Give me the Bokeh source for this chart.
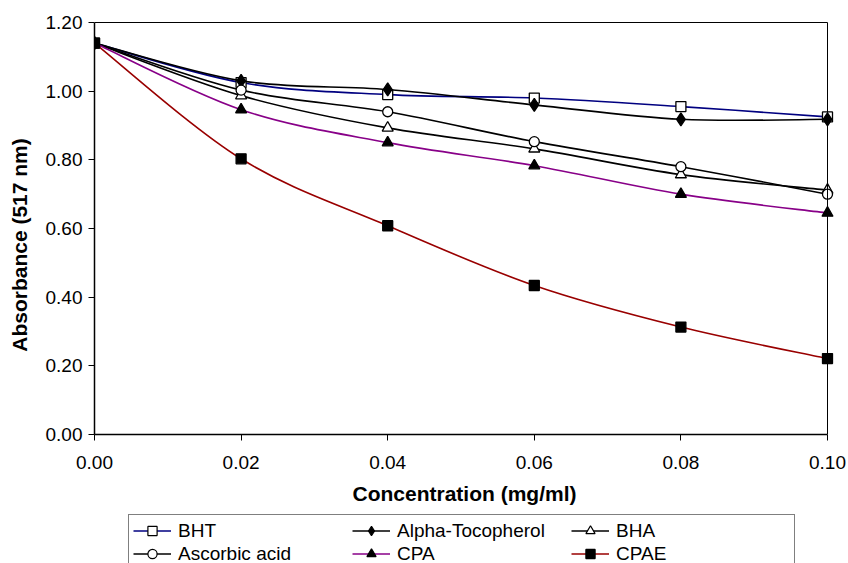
from bokeh.plotting import figure
from bokeh.layouts import column
from bokeh.models import (Range1d, FixedTicker, PrintfTickFormatter, Legend, LegendItem,
                          LinearAxis)
from bokeh.embed import file_html
from bokeh.resources import INLINE

conc = [0.00, 0.02, 0.04, 0.06, 0.08, 0.10]
bht = [1.14, 1.025, 0.99, 0.98, 0.955, 0.925]
alpha_toc = [1.14, 1.03, 1.005, 0.96, 0.918, 0.918]
bha = [1.14, 0.987, 0.893, 0.832, 0.757, 0.712]
ascorbic = [1.14, 1.003, 0.94, 0.853, 0.78, 0.70]
cpa = [1.14, 0.946, 0.85, 0.783, 0.70, 0.645]
cpae = [1.14, 0.803, 0.608, 0.434, 0.313, 0.221]

x_ticks = [0.00, 0.02, 0.04, 0.06, 0.08, 0.10]
y_ticks = [0.00, 0.20, 0.40, 0.60, 0.80, 1.00, 1.20]

FONT = "Liberation Sans"
X_MIN, X_MAX, Y_MIN, Y_MAX = 0.0, 0.1, 0.0, 1.2

# small range padding on the right/top so edge markers and border lines are not clipped
p = figure(frame_width=740, frame_height=414, output_backend="svg", toolbar_location=None,
           x_range=Range1d(X_MIN, X_MAX + 0.000955), y_range=Range1d(Y_MIN, Y_MAX + 0.0058),
           min_border_left=94, min_border_right=14, min_border_top=20,
           min_border_bottom=79)
p.xgrid.visible = False
p.ygrid.visible = False
p.outline_line_color = None
p.background_fill_color = "white"
p.border_fill_color = "white"

for ax in (p.xaxis[0], p.yaxis[0]):
    ax.axis_line_color = "black"
    ax.axis_line_width = 1.5
    ax.major_tick_line_color = "black"
    ax.major_tick_line_width = 1
    ax.major_tick_in = 0
    ax.major_tick_out = 6
    ax.minor_tick_line_color = None
    ax.major_label_text_font = FONT
    ax.major_label_text_font_size = "19px"
    ax.major_label_text_color = "black"
    ax.axis_label_text_font = FONT
    ax.axis_label_text_font_size = "21px"
    ax.axis_label_text_font_style = "bold"
    ax.axis_label_text_color = "black"
    ax.formatter = PrintfTickFormatter(format="%.2f")

p.xaxis[0].ticker = FixedTicker(ticks=x_ticks)
p.yaxis[0].ticker = FixedTicker(ticks=y_ticks)
p.xaxis[0].bounds = (X_MIN, X_MAX)
p.yaxis[0].bounds = (Y_MIN, Y_MAX)
p.xaxis[0].axis_label = "Concentration (mg/ml)"
# trailing no-break spaces nudge the rotated title downward, as in the original
p.yaxis[0].axis_label = "Absorbance (517 nm)" + "\u00a0" * 6
p.xaxis[0].major_label_standoff = 15
p.yaxis[0].major_label_standoff = 6
p.xaxis[0].axis_label_standoff = 10
p.yaxis[0].axis_label_standoff = 12

# plot-area border on top and right
top_ax = LinearAxis(ticker=FixedTicker(ticks=[]), bounds=(X_MIN, X_MAX), fixed_location=Y_MAX,
                    axis_line_color="black", axis_line_width=1,
                    major_tick_line_color=None, minor_tick_line_color=None)
right_ax = LinearAxis(ticker=FixedTicker(ticks=[]), bounds=(Y_MIN, Y_MAX), fixed_location=X_MAX,
                      axis_line_color="black", axis_line_width=1,
                      major_tick_line_color=None, minor_tick_line_color=None)
p.add_layout(top_ax, "above")
p.add_layout(right_ax, "right")


def smooth_segments(xs, ys):
    n = len(xs)
    x0, y0, x1, y1, cx0, cy0, cx1, cy1 = [], [], [], [], [], [], [], []
    for i in range(n - 1):
        im = max(i - 1, 0)
        ip2 = min(i + 2, n - 1)
        x0.append(xs[i]); y0.append(ys[i])
        x1.append(xs[i + 1]); y1.append(ys[i + 1])
        cx0.append(xs[i] + (xs[i + 1] - xs[im]) / 6.0)
        cy0.append(ys[i] + (ys[i + 1] - ys[im]) / 6.0)
        cx1.append(xs[i + 1] - (xs[ip2] - xs[i]) / 6.0)
        cy1.append(ys[i + 1] - (ys[ip2] - ys[i]) / 6.0)
    return dict(x0=x0, y0=y0, x1=x1, y1=y1, cx0=cx0, cy0=cy0, cx1=cx1, cy1=cy1)


series = [
    ("BHT", bht, "#000080", "square", "white", 10),
    ("Alpha-Tocopherol", alpha_toc, "black", "diamond", "black", 13),
    ("BHA", bha, "black", "triangle", "white", 11),
    ("Ascorbic acid", ascorbic, "black", "circle", "white", 10),
    ("CPA", cpa, "#880088", "triangle", "black", 11),
    ("CPAE", cpae, "#990000", "square", "black", 10),
]

# legend strip below the chart (its own figure so the legend can be placed freely)
lg = figure(width=848, height=50, output_backend="svg", toolbar_location=None,
            x_range=Range1d(10, 11), y_range=Range1d(10, 11),
            x_axis_location=None, y_axis_location=None, min_border=0)
lg.xgrid.visible = False
lg.ygrid.visible = False
lg.outline_line_color = None

items = []
for name, vals, color, marker, fill, size in series:
    seg = smooth_segments(conc, vals)
    p.bezier(x0=seg["x0"], y0=seg["y0"], x1=seg["x1"], y1=seg["y1"],
             cx0=seg["cx0"], cy0=seg["cy0"], cx1=seg["cx1"], cy1=seg["cy1"],
             line_color=color, line_width=1.6)
    p.scatter(conc, vals, marker=marker, size=size, fill_color=fill,
              line_color="black", line_width=1.3)
    l_line = lg.line(conc, vals, line_color=color, line_width=1.6)
    l_pts = lg.scatter(conc, vals, marker=marker, size=size, fill_color=fill,
                       line_color="black", line_width=1.2)
    items.append(LegendItem(label=name, renderers=[l_line, l_pts]))

legend = Legend(items=items, ncols=3, orientation="horizontal",
                location=(34, -7),
                border_line_color="black", border_line_width=1,
                background_fill_color="white", background_fill_alpha=1,
                padding=4, spacing=0, margin=0,
                glyph_width=38, glyph_height=23, label_standoff=7,
                label_width=174, label_height=23,
                label_text_font=FONT, label_text_font_size="19px",
                label_text_color="black", label_text_baseline="middle")
lg.add_layout(legend, "center")

layout = column(p, lg, spacing=0)
open("out.html", "w").write(file_html(layout, INLINE))
